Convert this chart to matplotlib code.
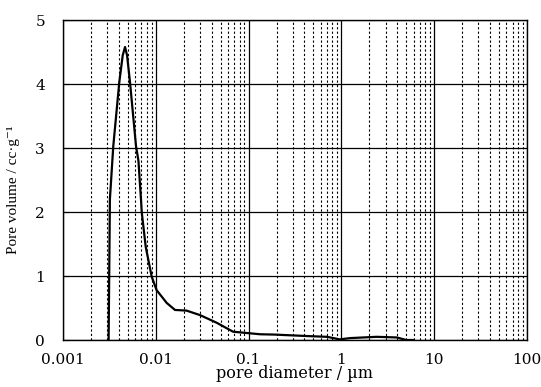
import matplotlib
matplotlib.use("Agg")
import matplotlib.pyplot as plt
from matplotlib.ticker import LogLocator, FixedLocator, NullFormatter

# pore size distribution
diameter_um = [0.0031, 0.0032, 0.00348, 0.00404, 0.0044, 0.00466, 0.0049, 0.00527,
               0.00612, 0.0065, 0.00692, 0.00705, 0.00778, 0.00903, 0.0102, 0.0131,
               0.0161, 0.0214, 0.0299, 0.0453, 0.068, 0.095, 0.133, 0.19, 0.46,
               0.7, 0.96, 1.24, 2.4, 3.96, 5.0, 6.0]
pore_volume = [0.0, 2.2, 3.03, 4.03, 4.45, 4.58, 4.45, 4.03,
               3.03, 2.8, 2.2, 2.0, 1.46, 0.99, 0.78, 0.58,
               0.47, 0.46, 0.39, 0.27, 0.13, 0.11, 0.09, 0.085, 0.06,
               0.05, 0.01, 0.03, 0.05, 0.04, 0.0, 0.0]

x_ticks = [0.001, 0.01, 0.1, 1, 10, 100]
x_tick_labels = ["0.001", "0.01", "0.1", "1", "10", "100"]
y_ticks = [0, 1, 2, 3, 4, 5]

tick_font = dict(family=["DejaVu Serif"], fontsize=11)

fig = plt.figure(figsize=(5.41, 3.87), dpi=100)
ax = fig.add_axes([0.1165, 0.1214, 0.974 - 0.1165, 0.948 - 0.1214])
ax.set_xscale("log")
ax.set_xlim(0.001, 100)
ax.set_ylim(0, 5)

ax.xaxis.set_major_locator(FixedLocator(x_ticks))
ax.xaxis.set_minor_locator(LogLocator(base=10, subs=range(2, 10), numticks=100))
ax.xaxis.set_minor_formatter(NullFormatter())
ax.set_xticklabels(x_tick_labels, **tick_font)
ax.set_yticks(y_ticks)
ax.set_yticklabels([str(v) for v in y_ticks], **tick_font)

ax.grid(True, which="major", axis="both", color="black", linewidth=0.9, linestyle="-")
ax.grid(True, which="minor", axis="x", color="black", linewidth=0.8, linestyle=(0, (2, 2)))
ax.set_axisbelow(True)

ax.tick_params(axis="x", which="both", length=0, pad=9)
ax.tick_params(axis="y", which="major", direction="in", length=4, width=0.8, pad=13)
ax.tick_params(axis="y", which="minor", length=0)

for s in ax.spines.values():
    s.set_linewidth(1.0)
    s.set_color("black")

ax.plot(diameter_um, pore_volume, color="black", linewidth=1.6)

ax.set_xlabel("pore diameter / µm", family=["DejaVu Serif"], fontsize=11.5, labelpad=-1)
ax.set_ylabel("Pore volume / cc·g⁻¹", family=["Liberation Serif", "DejaVu Serif"],
              fontsize=11)
ax.yaxis.set_label_coords(-0.093, 0.47)

fig.savefig("out.png", dpi=100)
